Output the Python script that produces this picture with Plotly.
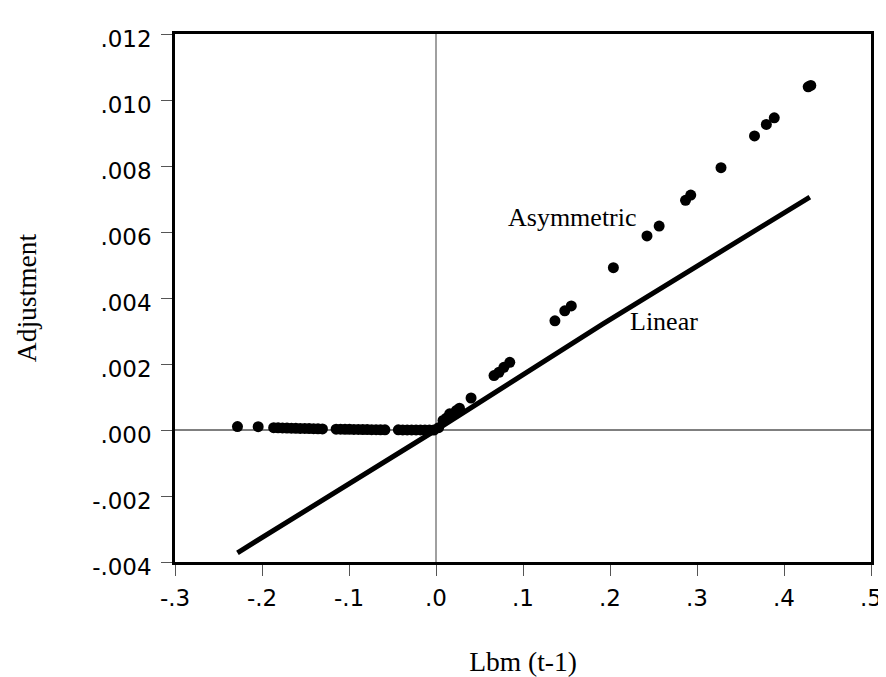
import plotly.graph_objects as go

# Asymmetric adjustment (scatter points)
asym_x = [-0.2282, -0.2044,
          -0.1866, -0.1815, -0.1764, -0.1713, -0.1662, -0.1611, -0.1560, -0.1509,
          -0.1458, -0.1407, -0.1356, -0.1305,
          -0.1148, -0.1097, -0.1046, -0.0995, -0.0944, -0.0893, -0.0842, -0.0791,
          -0.0740, -0.0689, -0.0638, -0.0587,
          -0.0433, -0.0382, -0.0331, -0.0280, -0.0229, -0.0178, -0.0127, -0.0076, -0.0025,
          0.0030, 0.0081, 0.0120, 0.0157, 0.0233, 0.0270, 0.0403, 0.0667, 0.0724,
          0.0780, 0.0848, 0.1367, 0.1480, 0.1555, 0.2039, 0.2425, 0.2565, 0.2868,
          0.2928, 0.3276, 0.3661, 0.3797, 0.3888, 0.4278, 0.4308]
asym_y = [0.000104, 0.000100,
          0.000070, 0.000066, 0.000062, 0.000059, 0.000055, 0.000052, 0.000049, 0.000046,
          0.000043, 0.000040, 0.000037, 0.000034,
          0.000026, 0.000024, 0.000022, 0.000020, 0.000018, 0.000016, 0.000014, 0.000013,
          0.000011, 0.000010, 0.000008, 0.000007,
          0.000004, 0.000003, 0.000002, 0.0000015, 0.000001, 0.0000006, 0.0000003, 0.0000001, 0.0,
          0.00007, 0.00029, 0.00036, 0.00049, 0.00059, 0.00066, 0.00097, 0.00165, 0.00175,
          0.00190, 0.00205, 0.00331, 0.00361, 0.00376, 0.00492, 0.00588, 0.00618, 0.00696,
          0.00712, 0.00795, 0.00891, 0.00926, 0.00946, 0.01040, 0.01044]

# Linear adjustment (line)
lin_x = [-0.2282, 0.0, 0.1915, 0.4297]
lin_y = [-0.00372, 0.0, 0.00321, 0.00706]

x_tickvals = [-0.3, -0.2, -0.1, 0.0, 0.1, 0.2, 0.3, 0.4, 0.5]
x_ticktext = ["-.3", "-.2", "-.1", ".0", ".1", ".2", ".3", ".4", ".5"]
y_tickvals = [-0.004, -0.002, 0.0, 0.002, 0.004, 0.006, 0.008, 0.010, 0.012]
y_ticktext = ["-.004", "-.002", ".000", ".002", ".004", ".006", ".008", ".010", ".012"]

SERIF = "Liberation Serif"
SANS = "DejaVu Sans"

fig = go.Figure()
fig.add_trace(go.Scatter(x=lin_x, y=lin_y, mode="lines",
                         line=dict(color="black", width=5), name="Linear"))
fig.add_trace(go.Scatter(x=asym_x, y=asym_y, mode="markers",
                         marker=dict(color="black", size=11), name="Asymmetric"))

fig.add_annotation(x=0.1574, y=0.00644, text="Asymmetric", showarrow=False,
                   font=dict(family=SERIF, size=26, color="black"))
fig.add_annotation(x=0.2618, y=0.00330, text="Linear", showarrow=False,
                   font=dict(family=SERIF, size=26, color="black"))

# zero reference lines
fig.add_shape(type="line", x0=0, x1=0, y0=-0.004, y1=0.012, xref="x", yref="y",
              line=dict(color="#808080", width=1.5), layer="below")
fig.add_shape(type="line", x0=-0.3, x1=0.5, y0=0, y1=0, xref="x", yref="y",
              line=dict(color="black", width=1), layer="below")

fig.update_layout(
    width=886, height=677,
    margin=dict(l=167, r=14, t=26, b=122),
    plot_bgcolor="white", paper_bgcolor="white",
    showlegend=False,
    font=dict(family=SANS, size=23, color="black"),
)
fig.update_xaxes(range=[-0.3, 0.5], tickvals=x_tickvals, ticktext=x_ticktext,
                 showgrid=False, zeroline=False, showline=True, mirror=True,
                 linecolor="black", linewidth=2.5, ticks="outside", ticklen=11,
                 tickcolor="#555555", tickwidth=1, ticklabelstandoff=3,
                 title=dict(text="Lbm (t-1)", standoff=42,
                            font=dict(family=SERIF, size=27.5)))
fig.update_yaxes(range=[-0.004, 0.012], tickvals=y_tickvals, ticktext=y_ticktext,
                 showgrid=False, zeroline=False, showline=True, mirror=True,
                 linecolor="black", linewidth=2.5, ticks="outside", ticklen=11,
                 tickcolor="#555555", tickwidth=1, ticklabelstandoff=5,
                 ticklabelshift=5,
                 title=dict(text="Adjustment", standoff=48,
                            font=dict(family=SERIF, size=27.5)))

fig.write_html("out.html")
